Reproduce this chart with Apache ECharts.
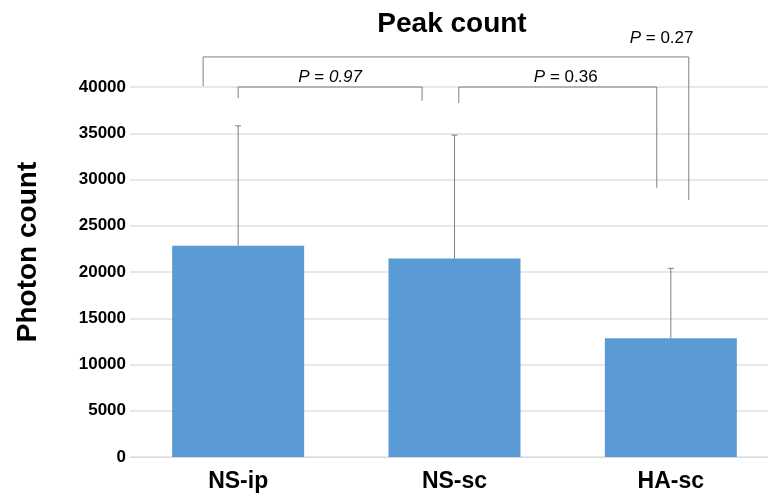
<!DOCTYPE html>
<html>
<head>
<meta charset="utf-8">
<script src="https://cdn.jsdelivr.net/npm/echarts@6/dist/echarts.min.js"></script>
<style>
  html, body { margin: 0; padding: 0; background: #fff; }
  #chart { width: 768px; height: 495px; }
</style>
</head>
<body>
<div id="chart"></div>
<script>
// data
const categories = ['NS-ip', 'NS-sc', 'HA-sc']
const means = [22850, 21450, 12830]
const errorTops = [35800, 34800, 20400]

// significance brackets: which groups, heights of the bar and the two legs
const bracketFrom = [0, 0, 1]
const bracketTo = [2, 1, 2]
const bracketTop = [43250, 40000, 40000]
const bracketLeftEnd = [40100, 38800, 38270]
const bracketRightEnd = [27800, 38500, 29100]
const pValues = ['0.27', '0.97', '0.36']

const font = 'Liberation Sans, Arial, sans-serif'
const lineColor = '#7f7f7f'

const chart = echarts.init(document.getElementById('chart'))

// horizontal nudges (in band widths) so legs sit where the original has them
const legShift = [[-0.162, 0.083], [0, -0.15], [0.02, -0.065]]
const labelShift = [[0.944, -19], [0.5, -10], [0.54, -10]]

chart.setOption({
  animation: false,
  title: {
    text: 'Peak count',
    left: 447,
    top: 5,
    textAlign: 'center',
    textStyle: { fontFamily: font, fontSize: 28, fontWeight: 'bold', color: '#000' }
  },
  grid: { left: 130, top: 87, width: 649, bottom: 38, outerBoundsMode: 'none', containLabel: false },
  xAxis: {
    type: 'category',
    data: categories,
    axisTick: { show: false },
    axisLine: { lineStyle: { color: '#d9d9d9', width: 1 } },
    axisLabel: { margin: 13, color: '#000', fontFamily: font, fontSize: 23, fontWeight: 'bold' }
  },
  yAxis: {
    type: 'value',
    min: 0,
    max: 40000,
    interval: 5000,
    name: 'Photon count',
    nameLocation: 'middle',
    nameGap: 88,
    nameTextStyle: { fontFamily: font, fontSize: 28, fontWeight: 'bold', color: '#000', padding: [0, 0, 0, 40] },
    axisLine: { show: false },
    axisTick: { show: false },
    axisLabel: {
      margin: 4,
      color: '#000',
      fontFamily: font,
      fontSize: 17,
      fontWeight: 'bold',
      formatter: v => String(v)
    },
    splitLine: { lineStyle: { color: '#e0e0e0', width: 1.5 } }
  },
  series: [{
    type: 'bar',
    data: means,
    barWidth: 132,
    itemStyle: { color: '#5b9bd5' }
  }, {
    type: 'custom',
    data: errorTops.map((v, i) => i),
    z: 3,
    renderItem(params, api) {
      const i = params.dataIndex
      const base = api.coord([i, means[i]])
      const top = api.coord([i, errorTops[i]])
      return {
        type: 'group',
        children: [{
          type: 'line',
          shape: { x1: base[0], y1: base[1], x2: top[0], y2: top[1] },
          style: { stroke: lineColor, lineWidth: 1 }
        }, {
          type: 'line',
          shape: { x1: top[0] - 3, y1: top[1], x2: top[0] + 3, y2: top[1] },
          style: { stroke: lineColor, lineWidth: 1 }
        }]
      }
    }
  }, {
    type: 'custom',
    data: pValues.map((v, i) => i),
    clip: false,
    z: 4,
    renderItem(params, api) {
      const i = params.dataIndex
      const band = api.size([1, 0])[0]
      const l = api.coord([bracketFrom[i], bracketTop[i]])
      const r = api.coord([bracketTo[i], bracketTop[i]])
      const lx = l[0] + legShift[i][0] * band
      const rx = r[0] + legShift[i][1] * band
      const ly = api.coord([bracketFrom[i], bracketLeftEnd[i]])[1]
      const ry = api.coord([bracketTo[i], bracketRightEnd[i]])[1]
      const tx = lx + (rx - lx) * labelShift[i][0]
      const italicNum = i === 1
      return {
        type: 'group',
        children: [{
          type: 'polyline',
          shape: { points: [[lx, ly], [lx, l[1]], [rx, l[1]], [rx, ry]] },
          style: { stroke: lineColor, lineWidth: 1, fill: null }
        }, {
          type: 'text',
          style: {
            x: tx,
            y: l[1] + labelShift[i][1],
            text: '{i|P} = ' + (italicNum ? '{i|' + pValues[i] + '}' : pValues[i]),
            align: 'center',
            verticalAlign: 'middle',
            fill: '#000',
            font: '17px ' + font,
            rich: { i: { fontStyle: 'italic', fontSize: 17, fontFamily: font } }
          }
        }]
      }
    }
  }]
})
</script>
</body>
</html>
